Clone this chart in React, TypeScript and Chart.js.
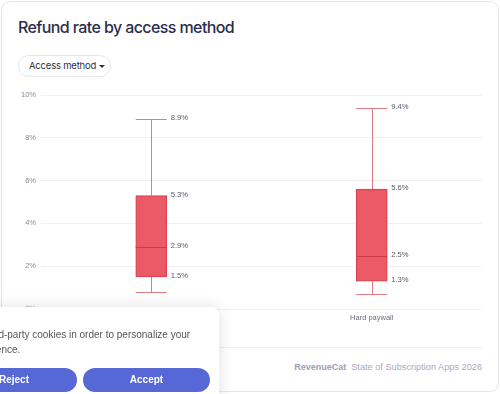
import React, { useEffect, useRef } from "react";
import { Chart, registerables } from "chart.js";

Chart.register(...registerables);

const categories = ["Freemium", "Hard paywall"];
const minValues = [0.8, 0.7];
const q1Values = [1.5, 1.3];
const medianValues = [2.9, 2.5];
const q3Values = [5.3, 5.6];
const maxValues = [8.9, 9.4];
const yTicks = [0, 2, 4, 6, 8, 10];

const BOX_FILL = "rgba(234, 84, 97, 0.96)";
const BOX_BORDER = "#d8404e";
const WHISKER = "#e27a84";
const MEDIAN = "#c63c49";
const LABEL_COLOR = "#55586c";
const TICK_COLOR = "#8a8d9f";
const CHART_FONT = "'Liberation Sans', Arial, sans-serif";

const boxPlotPlugin = {
  id: "boxplotParts",
  beforeDatasetsDraw(chart: any) {
    const ctx = chart.ctx;
    const y = chart.scales.y;
    const meta = chart.getDatasetMeta(0);
    meta.data.forEach((bar: any, i: number) => {
      const x = Math.round(bar.x) + 0.5;
      const half = bar.width / 2;
      const yMin = Math.round(y.getPixelForValue(minValues[i])) + 0.5;
      const yMax = Math.round(y.getPixelForValue(maxValues[i])) + 0.5;
      const yQ1 = y.getPixelForValue(q1Values[i]);
      const yQ3 = y.getPixelForValue(q3Values[i]);
      ctx.save();
      ctx.strokeStyle = WHISKER;
      ctx.lineWidth = 1;
      ctx.beginPath();
      ctx.moveTo(x, yMax);
      ctx.lineTo(x, yQ3);
      ctx.moveTo(x, yQ1);
      ctx.lineTo(x, yMin);
      ctx.moveTo(bar.x - half, yMax);
      ctx.lineTo(bar.x + half, yMax);
      ctx.moveTo(bar.x - half, yMin);
      ctx.lineTo(bar.x + half, yMin);
      ctx.stroke();
      ctx.restore();
    });
  },
  afterDatasetsDraw(chart: any) {
    const ctx = chart.ctx;
    const y = chart.scales.y;
    const meta = chart.getDatasetMeta(0);
    meta.data.forEach((bar: any, i: number) => {
      const half = bar.width / 2;
      const yMed = Math.round(y.getPixelForValue(medianValues[i])) + 0.5;
      ctx.save();
      ctx.strokeStyle = MEDIAN;
      ctx.lineWidth = 1;
      ctx.beginPath();
      ctx.moveTo(bar.x - half, yMed);
      ctx.lineTo(bar.x + half, yMed);
      ctx.stroke();
      ctx.fillStyle = LABEL_COLOR;
      ctx.font = `7.6px ${CHART_FONT}`;
      ctx.textAlign = "left";
      ctx.textBaseline = "middle";
      const lx = bar.x + half + 4;
      [maxValues[i], q3Values[i], medianValues[i], q1Values[i]].forEach((v) => {
        ctx.fillText(v.toFixed(1) + "%", lx, y.getPixelForValue(v) - 1);
      });
      ctx.restore();
    });
  },
};

export default function App() {
  const canvasRef = useRef<HTMLCanvasElement | null>(null);

  useEffect(() => {
    if (!canvasRef.current) return;
    const chart = new Chart(canvasRef.current, {
      type: "bar",
      data: {
        labels: categories,
        datasets: [
          {
            data: categories.map((_, i) => [q1Values[i], q3Values[i]]) as any,
            backgroundColor: BOX_FILL,
            borderColor: BOX_BORDER,
            borderWidth: 1,
            borderSkipped: false,
            barThickness: 31,
          },
        ],
      },
      options: {
        animation: false,
        responsive: false,
        maintainAspectRatio: false,
        layout: { padding: { top: 15, right: 18, left: 0, bottom: 0 } },
        plugins: { legend: { display: false }, tooltip: { enabled: false } },
        scales: {
          x: {
            grid: { display: false, drawTicks: false },
            border: { display: false },
            ticks: {
              padding: 4,
              color: "#6c6f82",
              font: { family: CHART_FONT, size: 7.5 },
            },
            afterFit: (s: any) => {
              s.height = 31;
            },
          },
          y: {
            min: 0,
            max: 10,
            afterBuildTicks: (s: any) => {
              s.ticks = yTicks.map((v) => ({ value: v }));
            },
            grid: { color: "#f0f0f4", drawTicks: false, lineWidth: 1 },
            border: { display: false },
            ticks: {
              padding: 5,
              color: TICK_COLOR,
              font: { family: CHART_FONT, size: 7.5 },
              callback: (v: any) => v + "%",
            },
            afterFit: (s: any) => {
              s.width = 41;
            },
          },
        },
      },
      plugins: [boxPlotPlugin],
    });
    return () => chart.destroy();
  }, []);

  return (
    <div
      style={{
        position: "fixed",
        left: 0,
        top: 0,
        width: 500,
        height: 394,
        overflow: "hidden",
        background: "#ffffff",
      }}
    >
      <div
        style={{
          position: "absolute",
          left: 1,
          top: 1,
          width: 498,
          height: 391,
          boxSizing: "border-box",
          border: "1px solid #e4e6f4",
          borderLeftColor: "#dde2f7",
          borderRadius: 9,
        }}
      />
      <div
        style={{
          position: "absolute",
          left: 18,
          top: 19,
          fontFamily: "Inter, sans-serif",
          fontSize: 16,
          lineHeight: "16px",
          letterSpacing: "-0.6px",
          fontWeight: 500,
          color: "#2b2d4c",
          whiteSpace: "nowrap",
        }}
      >
        Refund rate by access method
      </div>
      <div
        style={{
          position: "absolute",
          left: 18,
          top: 55,
          width: 93,
          height: 22,
          boxSizing: "border-box",
          border: "1px solid #e6e6ee",
          borderRadius: 11,
          fontFamily: "Inter, sans-serif",
          fontSize: 9.5,
          letterSpacing: "-0.2px",
          lineHeight: "20px",
          color: "#2e3048",
          paddingLeft: 10,
          whiteSpace: "nowrap",
        }}
      >
        Access method
        <span
          style={{
            position: "absolute",
            left: 80,
            top: 9,
            width: 0,
            height: 0,
            borderLeft: "3px solid transparent",
            borderRight: "3px solid transparent",
            borderTop: "3px solid #2e3048",
          }}
        />
      </div>
      <canvas
        ref={canvasRef}
        width={500}
        height={260}
        style={{ position: "absolute", left: 0, top: 80, width: 500, height: 260 }}
      />
      <div
        style={{
          position: "absolute",
          left: 18,
          top: 347,
          width: 464,
          height: 1,
          background: "#eeeff5",
        }}
      />
      <div
        style={{
          position: "absolute",
          right: 18,
          top: 361,
          fontFamily: "'Liberation Sans', Arial, sans-serif",
          fontSize: 9.2,
          lineHeight: "12px",
          color: "#a9abbd",
          whiteSpace: "nowrap",
        }}
      >
        <span style={{ fontWeight: 700, fontSize: 9, color: "#9c9fb2", marginRight: 5 }}>RevenueCat</span>
        State of Subscription Apps 2026
      </div>
      <div
        style={{
          position: "absolute",
          left: -58,
          top: 307,
          width: 277,
          height: 110,
          background: "#ffffff",
          borderRadius: 8,
          boxShadow: "0 0 16px rgba(0,0,0,0.13)",
          fontFamily: "'Liberation Sans', Arial, sans-serif",
        }}
      >
        <div
          style={{
            position: "absolute",
            left: 6,
            top: 20,
            fontSize: 10,
            lineHeight: "15px",
            color: "#555555",
            whiteSpace: "nowrap",
          }}
        >
          We use third-party cookies in order to personalize your
          <br />
          <span style={{ marginLeft: 2.3 }}>site experience.</span>
        </div>
        <div
          style={{
            position: "absolute",
            left: 9,
            top: 61,
            width: 126,
            height: 24,
            borderRadius: 12,
            background: "#5568d6",
            color: "#ffffff",
            fontWeight: 700,
            fontSize: 10,
            lineHeight: "24px",
            textAlign: "center",
          }}
        >
          Reject
        </div>
        <div
          style={{
            position: "absolute",
            left: 141,
            top: 61,
            width: 127,
            height: 24,
            borderRadius: 12,
            background: "#5568d6",
            color: "#ffffff",
            fontWeight: 700,
            fontSize: 10,
            lineHeight: "24px",
            textAlign: "center",
          }}
        >
          Accept
        </div>
      </div>
    </div>
  );
}
